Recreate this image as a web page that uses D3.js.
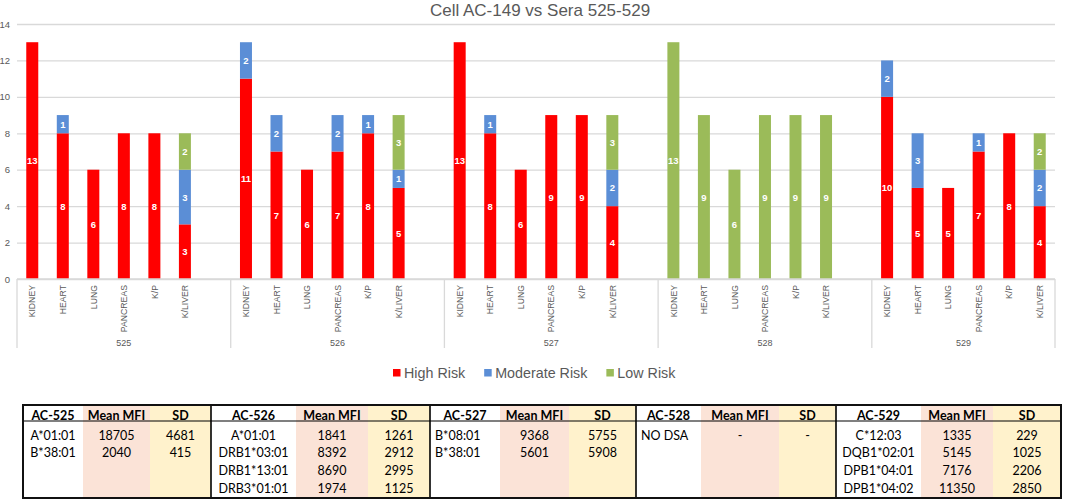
<!DOCTYPE html>
<html>
<head>
<meta charset="utf-8">
<script src="https://cdn.jsdelivr.net/npm/d3@7"></script>
<style>
  body { margin: 0; background: #fff; }
  svg { display: block; font-family: Arial, "Liberation Sans", sans-serif; }
</style>
</head>
<body>
<div id="chart"></div>
<script>
// ---- data ----
const title = "Cell AC-149 vs Sera 525-529";
const sera = ["525", "526", "527", "528", "529"];
const organs = ["KIDNEY", "HEART", "LUNG", "PANCREAS", "K/P", "K/LIVER"];
const riskKeys = ["High Risk", "Moderate Risk", "Low Risk"];
const riskColors = ["#ff0000", "#5b8ed6", "#9bbb59"];

// values per bar, sera in order, organs in order
const highRisk = [
    13, 8, 6, 8, 8, 3,
    11, 7, 6, 7, 8, 5,
    13, 8, 6, 9, 9, 4,
    0, 0, 0, 0, 0, 0,
    10, 5, 5, 7, 8, 4
];
const moderateRisk = [
    0, 1, 0, 0, 0, 3,
    2, 2, 0, 2, 1, 1,
    0, 1, 0, 0, 0, 2,
    0, 0, 0, 0, 0, 0,
    2, 3, 0, 1, 0, 2
];
const lowRisk = [
    0, 0, 0, 0, 0, 2,
    0, 0, 0, 0, 0, 3,
    0, 0, 0, 0, 0, 3,
    13, 9, 6, 9, 9, 9,
    0, 0, 0, 0, 0, 2
];
const yTicks = [0, 2, 4, 6, 8, 10, 12, 14];

// table
const tableHeads = ["AC-525", "AC-526", "AC-527", "AC-528", "AC-529"];
const alleles = [
    ["A*01:01", "B*38:01"],
    ["A*01:01", "DRB1*03:01", "DRB1*13:01", "DRB3*01:01"],
    ["B*08:01", "B*38:01"],
    ["NO DSA"],
    ["C*12:03", "DQB1*02:01", "DPB1*04:01", "DPB1*04:02"]
];
const meanMFI = [
    ["18705", "2040"],
    ["1841", "8392", "8690", "1974"],
    ["9368", "5601"],
    ["-"],
    ["1335", "5145", "7176", "11350"]
];
const sdMFI = [
    ["4681", "415"],
    ["1261", "2912", "2995", "1125"],
    ["5755", "5908"],
    ["-"],
    ["229", "1025", "2206", "2850"]
];

// ---- layout ----
const W = 1065, H = 501;
const plot = {left: 17, right: 1055, top: 24, bottom: 279};
const textGray = "#595959";
const gridGray = "#d9d9d9";

const svg = d3.select("#chart").append("svg")
    .attr("width", W)
    .attr("height", H);

svg.append("rect").attr("width", W).attr("height", H).attr("fill", "#fff");

// slots: 6 organs + one empty slot between sera
let slots = [];
sera.forEach((s, i) => {
    organs.forEach(o => slots.push(s + "|" + o));
    if (i < sera.length - 1) slots.push(s + "|gap");
});

let bars = [];
sera.forEach((s, i) => {
    organs.forEach((o, j) => {
        let k = i * organs.length + j;
        bars.push({
            slot: s + "|" + o,
            "High Risk": highRisk[k],
            "Moderate Risk": moderateRisk[k],
            "Low Risk": lowRisk[k]
        });
    });
});

const x = d3.scaleBand()
    .domain(slots)
    .range([plot.left, plot.right])
    .paddingInner(0.607)
    .paddingOuter(0.3035);

const y = d3.scaleLinear()
    .domain([0, 14])
    .range([plot.bottom, plot.top]);

const color = d3.scaleOrdinal().domain(riskKeys).range(riskColors);

// title
svg.append("text")
    .attr("x", 540)
    .attr("y", 15.5)
    .attr("text-anchor", "middle")
    .attr("fill", textGray)
    .style("font-size", "17px")
    .text(title);

// gridlines + y labels
const yAxis = svg.append("g")
    .attr("transform", `translate(${plot.left},0)`)
    .call(d3.axisLeft(y).tickValues(yTicks).tickSize(-(plot.right - plot.left)).tickPadding(7));
yAxis.select(".domain").remove();
yAxis.selectAll(".tick line").attr("stroke", gridGray).attr("stroke-width", 1.3);
yAxis.selectAll(".tick text")
    .attr("fill", textGray)
    .style("font-size", "9.5px")
    .style("font-family", "Arial, 'Liberation Sans', sans-serif");

// stacked bars
const stacked = d3.stack().keys(riskKeys)(bars);

const layers = svg.append("g").selectAll("g")
    .data(stacked)
    .join("g")
    .attr("fill", d => color(d.key));

layers.selectAll("rect")
    .data(d => d.filter(p => p[1] - p[0] > 0))
    .join("rect")
    .attr("x", d => x(d.data.slot))
    .attr("width", x.bandwidth())
    .attr("y", d => y(d[1]))
    .attr("height", d => y(d[0]) - y(d[1]));

// data labels
layers.selectAll("text")
    .data(d => d.filter(p => p[1] - p[0] > 0))
    .join("text")
    .attr("x", d => x(d.data.slot) + x.bandwidth() / 2)
    .attr("y", d => y((d[0] + d[1]) / 2) + 3.5)
    .attr("text-anchor", "middle")
    .attr("fill", "#fff")
    .style("font-size", "9.5px")
    .style("font-weight", "bold")
    .text(d => d[1] - d[0]);

// category axis (two levels)
const axisG = svg.append("g");
axisG.append("line")
    .attr("x1", plot.left).attr("x2", plot.right)
    .attr("y1", plot.bottom).attr("y2", plot.bottom)
    .attr("stroke", gridGray).attr("stroke-width", 1.3);

axisG.selectAll(".organ")
    .data(bars)
    .join("text")
    .attr("class", "organ")
    .attr("transform", d => `translate(${x(d.slot) + x.bandwidth() / 2 + 3.2},${plot.bottom + 6}) rotate(-90)`)
    .attr("text-anchor", "end")
    .attr("fill", textGray)
    .style("font-size", "8.7px")
    .text(d => d.slot.split("|")[1]);

// group extents
const groupEdges = sera.map((s, i) => {
    let start = i === 0 ? plot.left : x(s + "|" + organs[0]) - (x.step() - x.bandwidth()) / 2;
    let next = i < sera.length - 1 ? x(sera[i + 1] + "|" + organs[0]) - (x.step() - x.bandwidth()) / 2 : plot.right;
    return {serum: s, x0: start, x1: next};
});

axisG.selectAll(".sep")
    .data([plot.left].concat(groupEdges.map(g => g.x1)))
    .join("line")
    .attr("class", "sep")
    .attr("x1", d => d).attr("x2", d => d)
    .attr("y1", plot.bottom).attr("y2", 348)
    .attr("stroke", gridGray).attr("stroke-width", 1.3);

axisG.selectAll(".serum")
    .data(groupEdges)
    .join("text")
    .attr("class", "serum")
    .attr("x", d => (d.x0 + d.x1) / 2)
    .attr("y", 346)
    .attr("text-anchor", "middle")
    .attr("fill", textGray)
    .style("font-size", "9px")
    .text(d => d.serum);

// legend
const legend = svg.append("g").attr("transform", "translate(393,373)");
let lx = 0;
riskKeys.forEach((k, i) => {
    let item = legend.append("g").attr("transform", `translate(${lx},0)`);
    item.append("rect")
        .attr("x", 0).attr("y", -4)
        .attr("width", 7.5).attr("height", 7.5)
        .attr("fill", riskColors[i]);
    let t = item.append("text")
        .attr("x", 11)
        .attr("y", 5)
        .attr("fill", textGray)
        .style("font-size", "14.3px")
        .text(k);
    lx += 11 + t.node().getComputedTextLength() + 19;
});

// ---- table ----
const tbl = {top: 405, headBottom: 421, bottom: 498, rowStart: 435, rowStep: 17.7};
const blockCols = [
    [23, 83, 150, 211],
    [211, 296, 368, 430],
    [430, 500, 569, 636],
    [636, 701, 779, 836],
    [836, 921, 993, 1061]
];
const nameAlign = ["middle", "middle", "start", "start", "middle"];
const pink = "#fbe3d7", yellow = "#fff2cc";
const tFont = "Lato, 'Open Sans', sans-serif";

const tg = svg.append("g").style("font-family", tFont);

blockCols.forEach((c, b) => {
    tg.append("rect").attr("x", c[1]).attr("y", tbl.top).attr("width", c[2] - c[1]).attr("height", tbl.bottom - tbl.top).attr("fill", pink);
    tg.append("rect").attr("x", c[2]).attr("y", tbl.top).attr("width", c[3] - c[2]).attr("height", tbl.bottom - tbl.top).attr("fill", yellow);

    const heads = [tableHeads[b], "Mean MFI", "SD"];
    heads.forEach((h, j) => {
        tg.append("text")
            .attr("x", (c[j] + c[j + 1]) / 2)
            .attr("y", 419.5)
            .attr("text-anchor", "middle")
            .attr("fill", "#000")
            .style("font-size", "12.5px")
            .style("font-weight", "bold")
            .text(h);
    });

    alleles[b].forEach((a, r) => {
        let yy = tbl.rowStart + r * tbl.rowStep + 4.5;
        tg.append("text")
            .attr("x", nameAlign[b] === "middle" ? (c[0] + c[1]) / 2 : c[0] + 5)
            .attr("y", yy)
            .attr("text-anchor", nameAlign[b])
            .style("font-size", "12.5px")
            .text(a);
        tg.append("text")
            .attr("x", (c[1] + c[2]) / 2)
            .attr("y", yy)
            .attr("text-anchor", "middle")
            .style("font-size", "12.5px")
            .text(meanMFI[b][r]);
        tg.append("text")
            .attr("x", (c[2] + c[3]) / 2)
            .attr("y", yy)
            .attr("text-anchor", "middle")
            .style("font-size", "12.5px")
            .text(sdMFI[b][r]);
    });
});

// table lines
tg.append("line")
    .attr("x1", 23).attr("x2", 1061)
    .attr("y1", tbl.headBottom).attr("y2", tbl.headBottom)
    .attr("stroke", "#000").attr("stroke-width", 1.2);
blockCols.slice(1).forEach(c => {
    tg.append("line")
        .attr("x1", c[0]).attr("x2", c[0])
        .attr("y1", tbl.top).attr("y2", tbl.bottom)
        .attr("stroke", "#000").attr("stroke-width", 1.6);
});
tg.append("rect")
    .attr("x", 23).attr("y", tbl.top)
    .attr("width", 1061 - 23).attr("height", tbl.bottom - tbl.top)
    .attr("fill", "none")
    .attr("stroke", "#111").attr("stroke-width", 2);
</script>
</body>
</html>
